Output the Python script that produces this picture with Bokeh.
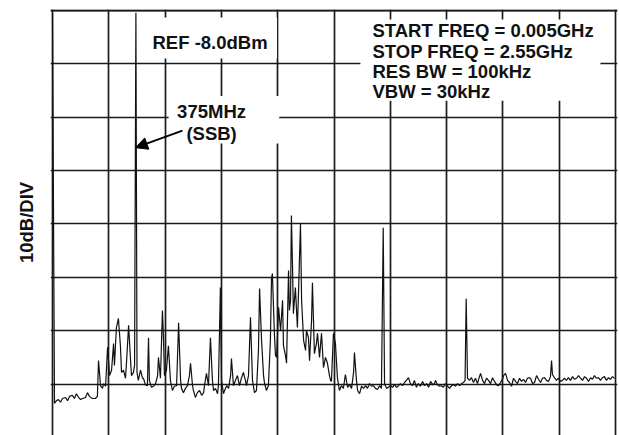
from bokeh.plotting import figure
from bokeh.models import (Range1d, Grid, FixedTicker, Label, BoxAnnotation, Arrow,
                          NormalHead, LinearAxis, Span)
from bokeh.embed import file_html
from bokeh.resources import INLINE

# ---- instrument settings ----
START_MHZ = 5
STOP_MHZ = 2550
REF_DBM = -8.0
DB_PER_DIV = 10
N_XDIV = 10
N_YDIV = 8

# ---- trace: frequency (MHz) and level (dBm) ----
FREQ_MHZ = [
    5, 14, 23, 32, 41, 50, 64, 73, 82, 95,
    104, 113, 123, 132, 141, 154, 163, 172, 186, 199,
    208, 213, 222, 231, 236, 245, 254, 263, 272, 281,
    285, 294, 303, 312, 317, 326, 335, 340, 349, 358,
    362, 371, 376, 382, 387, 393, 403, 412, 416, 425,
    434, 439, 443, 452, 462, 471, 480, 484, 493, 502,
    507, 511, 520, 529, 538, 547, 556, 566, 575, 584,
    588, 597, 606, 615, 624, 629, 638, 642, 651, 660,
    670, 679, 688, 692, 701, 710, 719, 728, 733, 742,
    751, 755, 764, 769, 778, 783, 792, 801, 810, 814,
    823, 832, 841, 850, 859, 868, 877, 882, 891, 900,
    909, 918, 927, 936, 941, 950, 959, 963, 972, 981,
    990, 995, 999, 1008, 1013, 1018, 1027, 1036, 1045, 1049,
    1058, 1063, 1072, 1076, 1081, 1085, 1090, 1094, 1103, 1112,
    1117, 1126, 1131, 1140, 1149, 1153, 1162, 1167, 1176, 1180,
    1189, 1198, 1203, 1212, 1221, 1230, 1239, 1248, 1257, 1262,
    1266, 1275, 1284, 1293, 1302, 1311, 1320, 1329, 1339, 1348,
    1357, 1366, 1370, 1379, 1384, 1393, 1402, 1411, 1420, 1429,
    1438, 1447, 1456, 1465, 1474, 1483, 1492, 1500, 1506, 1515,
    1524, 1533, 1542, 1551, 1560, 1569, 1578, 1587, 1596, 1605,
    1614, 1623, 1632, 1641, 1650, 1659, 1668, 1678, 1687, 1696,
    1705, 1714, 1723, 1732, 1736, 1745, 1754, 1763, 1772, 1781,
    1791, 1800, 1809, 1818, 1827, 1836, 1845, 1854, 1863, 1870,
    1875, 1881, 1890, 1899, 1908, 1917, 1926, 1935, 1940, 1949,
    1958, 1967, 1976, 1985, 1994, 2003, 2012, 2021, 2030, 2039,
    2044, 2053, 2062, 2071, 2080, 2089, 2098, 2107, 2116, 2125,
    2134, 2143, 2152, 2157, 2166, 2175, 2184, 2193, 2202, 2211,
    2220, 2229, 2238, 2247, 2256, 2261, 2265, 2274, 2283, 2292,
    2301, 2310, 2319, 2328, 2337, 2346, 2356, 2365, 2374, 2383,
    2392, 2401, 2410, 2419, 2428, 2437, 2446, 2455, 2464, 2473,
    2482, 2491, 2500, 2509, 2518, 2527, 2536, 2545,
]
LEVEL_DBM = [
    -8.4, -81.6, -81.1, -80.9, -81.4, -80.7, -80.5, -81.1, -80.3, -80.1,
    -80.7, -79.8, -80.5, -80.9, -80.7, -80.5, -79.6, -80.3, -80.7, -80.7,
    -80.3, -73.6, -78.3, -78.8, -77.9, -78.4, -71.1, -76.4, -75.4, -70.4,
    -74.5, -67.4, -65.7, -70.8, -75.8, -75.4, -76.9, -73.6, -67.0, -73.6,
    -76.4, -75.8, -74.5, -8.4, -75.8, -77.3, -75.4, -76.9, -76.9, -78.1,
    -78.3, -69.3, -77.3, -78.6, -78.4, -77.9, -76.4, -73.0, -76.9, -64.2,
    -69.8, -76.4, -75.4, -70.8, -77.3, -79.2, -78.4, -78.3, -66.5, -77.3,
    -78.8, -79.6, -78.8, -78.3, -76.4, -74.1, -78.3, -79.2, -80.5, -79.6,
    -79.2, -80.1, -79.6, -78.3, -76.0, -78.3, -69.3, -77.3, -79.2, -78.8,
    -79.8, -78.3, -59.9, -77.3, -79.8, -79.2, -78.3, -78.8, -76.4, -73.2,
    -78.3, -77.3, -76.4, -78.3, -76.9, -75.8, -77.3, -78.3, -76.4, -65.5,
    -77.3, -79.6, -79.2, -71.7, -60.1, -69.8, -76.4, -77.7, -79.2, -78.3,
    -69.8, -58.2, -57.3, -68.5, -72.6, -73.0, -63.6, -68.0, -62.3, -70.8,
    -72.6, -74.1, -56.7, -64.2, -62.3, -46.4, -56.1, -64.8, -59.9, -67.4,
    -61.0, -47.9, -62.3, -69.8, -71.7, -68.0, -69.3, -73.6, -66.1, -59.0,
    -72.3, -70.4, -68.5, -73.0, -68.5, -74.9, -73.0, -74.1, -76.4, -77.3,
    -77.5, -68.5, -70.4, -76.8, -79.2, -78.3, -78.8, -76.2, -78.6, -78.1,
    -78.8, -75.8, -72.1, -77.3, -79.2, -79.8, -78.4, -78.8, -78.3, -78.8,
    -77.9, -78.4, -78.3, -78.8, -79.0, -78.3, -78.8, -48.7, -77.9, -78.8,
    -78.6, -78.3, -78.6, -78.1, -78.6, -78.3, -77.9, -78.3, -77.7, -77.3,
    -76.8, -77.9, -78.3, -77.3, -78.6, -77.9, -78.4, -77.5, -78.3, -77.9,
    -78.6, -77.5, -78.1, -77.9, -77.3, -78.1, -78.4, -78.3, -78.6, -77.9,
    -78.4, -78.8, -78.3, -78.1, -78.4, -77.9, -78.3, -77.9, -77.7, -77.3,
    -62.0, -76.9, -77.3, -76.8, -77.7, -76.9, -77.9, -76.6, -76.0, -77.3,
    -77.9, -76.9, -77.3, -77.9, -76.8, -77.5, -78.1, -78.3, -77.7, -77.1,
    -76.4, -76.0, -77.3, -77.7, -78.4, -76.9, -77.5, -77.9, -76.9, -77.5,
    -77.1, -77.7, -76.9, -76.8, -76.9, -77.9, -77.7, -76.4, -77.1, -77.7,
    -76.9, -76.8, -77.3, -77.5, -76.6, -73.6, -76.2, -76.8, -77.3, -76.9,
    -77.5, -77.3, -76.9, -77.3, -76.8, -77.3, -76.6, -77.1, -76.9, -76.4,
    -76.9, -77.3, -76.6, -76.9, -77.5, -76.8, -77.1, -76.4, -76.9, -76.8,
    -77.3, -76.8, -76.6, -77.3, -76.8, -77.1, -76.6, -76.9,
]

SETTINGS_LINES = [
    "START FREQ = 0.005GHz",
    "STOP FREQ = 2.55GHz",
    "RES BW = 100kHz",
    "VBW = 30kHz",
]

X_DIV_TICKS = [START_MHZ + k * (STOP_MHZ - START_MHZ) / N_XDIV for k in range(N_XDIV + 1)]
Y_DIV_TICKS = [REF_DBM - k * DB_PER_DIV for k in range(N_YDIV)]

FONT = "Liberation Sans"
FS = "18.5px"
GRID_COLOR = "#1a1a1a"

p = figure(width=619, height=435, output_backend="svg", toolbar_location=None,
           x_axis_type=None, y_axis_type=None,
           x_range=Range1d(-4.04, 2559.04), y_range=Range1d(-87.63, -7.81),
           min_border_left=50, min_border_right=2, min_border_top=9, min_border_bottom=0)
p.outline_line_color = None
p.background_fill_color = "white"
p.border_fill_color = "white"

yaxis = LinearAxis(ticker=FixedTicker(ticks=[]), axis_line_color=None,
                   major_tick_line_color=None, minor_tick_line_color=None,
                   major_label_text_font_size="0px",
                   axis_label="10dB/DIV", axis_label_text_font=FONT,
                   axis_label_text_font_size=FS, axis_label_text_font_style="bold",
                   axis_label_text_color="#111111", axis_label_standoff=14)
p.add_layout(yaxis, "left")

p.add_layout(Grid(dimension=0, ticker=FixedTicker(ticks=X_DIV_TICKS),
                  grid_line_color=GRID_COLOR, grid_line_width=1.7))
p.add_layout(Grid(dimension=1, ticker=FixedTicker(ticks=Y_DIV_TICKS),
                  grid_line_color=GRID_COLOR, grid_line_width=1.7))
# top border of the graticule (reference level line)
p.add_layout(Span(location=REF_DBM, dimension="width", line_color=GRID_COLOR,
                  line_width=1.8))

p.line(FREQ_MHZ, LEVEL_DBM, line_color="#111111", line_width=1.2)

# white boxes behind annotations
p.add_layout(BoxAnnotation(left=403, right=1020, top=-9.3, bottom=-17.0,
                           fill_color="white", fill_alpha=1, line_color=None))
p.add_layout(BoxAnnotation(left=530, right=1030, top=-24.0, bottom=-32.9,
                           fill_color="white", fill_alpha=1, line_color=None))
p.add_layout(BoxAnnotation(left=1397, right=2482, top=-9.7, bottom=-24.9,
                           fill_color="white", fill_alpha=1, line_color=None))


def lab(x, y, text, align="left"):
    p.add_layout(Label(x=x, y=y, text=text, text_font=FONT, text_font_size=FS,
                       text_font_style="bold", text_color="#111111",
                       text_align=align, text_baseline="alphabetic"))


lab(457, -14.06, "REF -8.0dBm")
lab(724, -27.0, "375MHz", align="center")
lab(724, -31.06, "(SSB)", align="center")
for txt, yb in zip(SETTINGS_LINES, [-11.74, -15.67, -19.42, -23.17]):
    lab(1451.5, yb, txt)

p.add_layout(Arrow(end=NormalHead(size=12, fill_color="black", line_color="black"),
                   x_start=592.6, y_start=-30.5, x_end=380.2, y_end=-33.7,
                   line_width=2, line_color="black"))

open("out.html", "w").write(file_html(p, INLINE))
